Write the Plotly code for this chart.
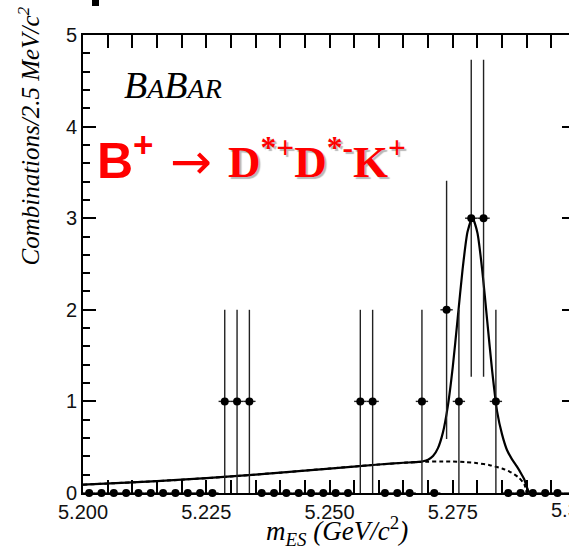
import plotly.graph_objects as go

# ---- data ----
bin_centers = [5.20125, 5.20375, 5.20625, 5.20875, 5.21125, 5.21375, 5.21625, 5.21875, 5.22125, 5.22375,
               5.22625, 5.22875, 5.23125, 5.23375, 5.23625, 5.23875, 5.24125, 5.24375, 5.24625, 5.24875,
               5.25125, 5.25375, 5.25625, 5.25875, 5.26125, 5.26375, 5.26625, 5.26875, 5.27125, 5.27375,
               5.27625, 5.27875, 5.28125, 5.28375, 5.28625, 5.28875, 5.29125, 5.29375, 5.29625, 5.29875]
counts = [0, 0, 0, 0, 0, 0, 0, 0, 0, 0,
          0, 1, 1, 1, 0, 0, 0, 0, 0, 0,
          0, 0, 1, 1, 0, 0, 0, 1, 0, 2,
          1, 3, 3, 1, 0, 0, 0, 0, 0, 0]
count_err = [0, 0, 0, 0, 0, 0, 0, 0, 0, 0,
             0, 1.0, 1.0, 1.0, 0, 0, 0, 0, 0, 0,
             0, 0, 1.0, 1.0, 0, 0, 0, 1.0, 0, 1.41,
             1.0, 1.73, 1.73, 1.0, 0, 0, 0, 0, 0, 0]
half_bin = [0.00125] * len(bin_centers)

# background (dashed) curve
bkg_m = [5.200, 5.210, 5.220, 5.230, 5.240, 5.250, 5.260, 5.265, 5.270, 5.2725, 5.275, 5.2775,
         5.280, 5.2825, 5.285, 5.2865, 5.2875, 5.2885, 5.2895, 5.290]
bkg_v = [0.091, 0.116, 0.145, 0.181, 0.222, 0.267, 0.311, 0.330, 0.342, 0.345, 0.344, 0.338,
         0.326, 0.304, 0.268, 0.234, 0.204, 0.163, 0.097, 0.0]

# total fit (solid) curve
fit_m = [5.200, 5.210, 5.220, 5.230, 5.240, 5.250, 5.260, 5.265, 5.266, 5.267, 5.268, 5.269,
         5.270, 5.271, 5.272, 5.273, 5.274, 5.275, 5.276, 5.277, 5.278, 5.279, 5.280, 5.281,
         5.282, 5.283, 5.284, 5.285, 5.286, 5.287, 5.288, 5.289, 5.2895, 5.290, 5.2905]
fit_v = [0.091, 0.116, 0.145, 0.181, 0.222, 0.267, 0.311, 0.330, 0.333, 0.336, 0.340, 0.347,
         0.364, 0.403, 0.490, 0.659, 0.949, 1.375, 1.906, 2.444, 2.851, 3.001, 2.842, 2.423,
         1.873, 1.330, 0.888, 0.640, 0.470, 0.370, 0.290, 0.200, 0.150, 0.070, 0.0]

x_tick_vals = [5.200, 5.225, 5.250, 5.275]
x_tick_text = ["5.200", "5.225", "5.250", "5.275"]
y_tick_vals = [0, 1, 2, 3, 4, 5]

# ---- geometry ----
W, H = 569, 556
L, R, T, B = 83, 0, 35, 63
PW, PH = W - L - R, H - T - B
X0 = 5.200
PX_PER_GEV = 4930.0
X1 = X0 + PW / PX_PER_GEV


def px(xp):
    return (xp - L) / PW


def py(yp):
    return (H - B - yp) / PH


fig = go.Figure()

fig.add_trace(go.Scatter(x=bkg_m, y=bkg_v, mode="lines",
                         line=dict(color="black", width=2, dash="4px,3px", shape="spline", smoothing=0.6),
                         hoverinfo="skip", showlegend=False))
fig.add_trace(go.Scatter(x=fit_m, y=fit_v, mode="lines",
                         line=dict(color="black", width=2.2, shape="spline", smoothing=0.6),
                         hoverinfo="skip", showlegend=False))
fig.add_trace(go.Scatter(x=bin_centers, y=counts, mode="markers",
                         marker=dict(color="black", size=8, symbol="circle"),
                         error_y=dict(type="data", array=count_err, visible=True, thickness=1.4, width=0, color="#222"),
                         error_x=dict(type="data", array=half_bin, visible=True, thickness=1.4, width=0, color="#222"),
                         cliponaxis=False, showlegend=False))
fig.add_trace(go.Scatter(x=[], y=[], yaxis="y2", showlegend=False))

tick_font = dict(family="Liberation Sans, Arial, sans-serif", size=20, color="#111")

fig.update_layout(
    width=W, height=H,
    margin=dict(l=L, r=R, t=T, b=B),
    paper_bgcolor="white", plot_bgcolor="white",
    showlegend=False,
    xaxis=dict(range=[X0, X1], tickvals=x_tick_vals, ticktext=x_tick_text,
               ticks="inside", ticklen=13, tickwidth=1.5, tickcolor="black",
               showline=True, linewidth=2, linecolor="black", mirror="allticks",
               showgrid=False, zeroline=False, tickfont=tick_font,
               minor=dict(ticks="inside", ticklen=7, tickwidth=1.5, tickcolor="black", dtick=0.005, tick0=5.2,
                          showgrid=False)),
    yaxis=dict(range=[0, 5], tickvals=y_tick_vals,
               ticks="inside", ticklen=13, tickwidth=1.5, tickcolor="black",
               showline=True, linewidth=2, linecolor="black", mirror=False,
               showgrid=False, zeroline=False, tickfont=tick_font,
               minor=dict(ticks="inside", ticklen=7, tickwidth=1.5, tickcolor="black", dtick=0.2, tick0=0,
                          showgrid=False)),
    yaxis2=dict(range=[0, 5], overlaying="y", side="right", tickvals=y_tick_vals,
                ticks="inside", ticklen=7, tickwidth=1.5, tickcolor="black",
                showticklabels=False, showline=False, showgrid=False, zeroline=False),
)

serif = "Liberation Serif, Times New Roman, serif"
annotations = [
    # y-axis title
    dict(text="<i>Combinations/2.5 MeV/c<sup>2</sup></i>", textangle=-90,
         xref="paper", yref="paper", x=px(29), y=py(5), xanchor="center", yanchor="top",
         showarrow=False, font=dict(family=serif, size=25, color="black")),
    # x-axis title
    dict(text="<i>m</i><sub><i>ES</i></sub><i> (GeV/c</i><sup>2</sup><i>)</i>",
         xref="paper", yref="paper", x=px(337), y=py(531), xanchor="center", yanchor="middle",
         showarrow=False, font=dict(family=serif, size=27, color="black")),
    # clipped last tick label
    dict(text="5.300", xref="paper", yref="paper", x=px(L + 0.1 * PX_PER_GEV), y=0,
         xanchor="center", yanchor="top", yshift=-4, showarrow=False, font=tick_font),
    # BaBar logo
    dict(text="<i>B<span style='font-size:28px'>A</span>B<span style='font-size:28px'>AR</span></i>",
         xref="paper", yref="paper", x=px(122), y=py(85), xanchor="left", yanchor="middle",
         showarrow=False, font=dict(family=serif, size=38, color="black")),
    # decay title
    dict(text="<b>B<sup>+</sup></b>", xref="paper", yref="paper", x=px(95), y=py(157),
         xanchor="left", yanchor="middle", showarrow=False,
         font=dict(family="Liberation Sans, Arial, sans-serif", size=50, color="#ff0000")),
    dict(text="\u2192", xref="paper", yref="paper", x=px(191), y=py(162),
         xanchor="center", yanchor="middle", showarrow=False,
         font=dict(family="DejaVu Sans, sans-serif", size=50, color="#ff0000")),
    dict(text="<b>D<sup>*+</sup>D<sup>*-</sup>K<sup>+</sup></b>", xref="paper", yref="paper",
         x=px(226), y=py(158), xanchor="left", yanchor="middle", showarrow=False,
         font=dict(family=serif, size=45, color="#ff0000", shadow="2px 2px 1px #b8b8b8")),
]
fig.update_layout(annotations=annotations)

# small dark mark at the top edge of the picture
fig.add_shape(type="rect", xref="paper", yref="paper", x0=px(92), x1=px(99), y0=py(6), y1=py(0),
              fillcolor="black", line=dict(width=0), layer="above")

fig.write_html("out.html")
